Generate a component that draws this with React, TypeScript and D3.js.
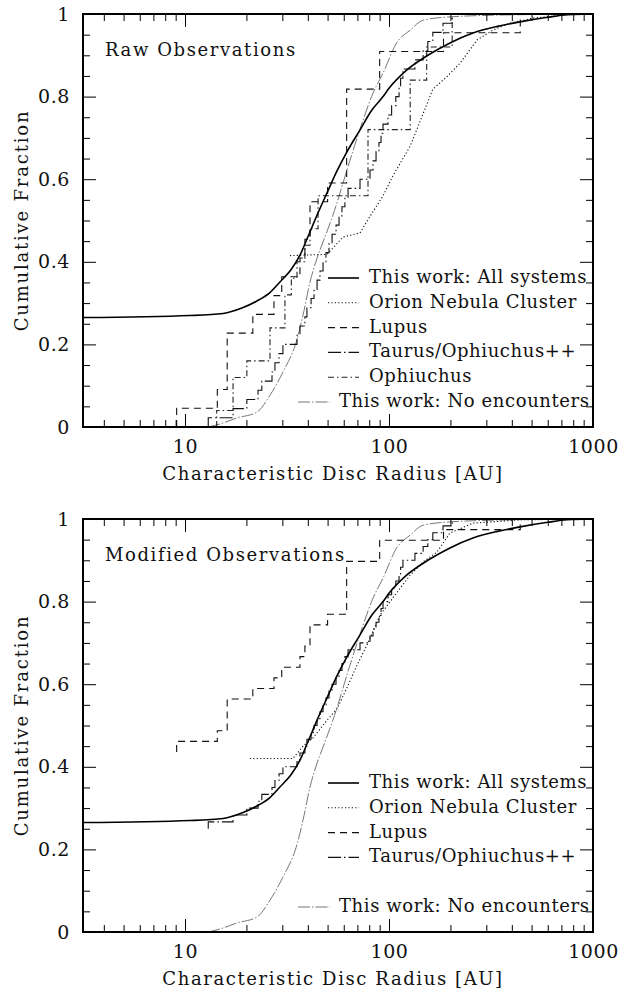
import React, { useEffect, useRef } from "react";
import * as d3 from "d3";

// model curves (this work)
const allSysR = [3.16, 10.6, 15.4, 19, 22.5, 26, 29.2, 33, 36.6, 40, 44.4, 50, 55.6, 62, 72, 82.6, 93.5, 100, 122, 155, 199, 258, 340, 439, 600, 746, 1000];
const allSysF = [0.265, 0.27, 0.275, 0.288, 0.305, 0.325, 0.351, 0.38, 0.416, 0.46, 0.513, 0.57, 0.62, 0.665, 0.719, 0.768, 0.8, 0.82, 0.864, 0.9, 0.93, 0.954, 0.97, 0.981, 0.992, 0.998, 1.0];

const noEncR = [13.0, 15, 18.0, 22.5, 26.1, 30.2, 35.4, 37.9, 41.0, 44.4, 47.5, 53.1, 64.4, 74.6, 83.6, 93.5, 109, 127, 147, 199, 400, 1000];
const noEncF = [0.0, 0.008, 0.022, 0.036, 0.077, 0.133, 0.212, 0.271, 0.351, 0.409, 0.448, 0.513, 0.646, 0.743, 0.809, 0.857, 0.93, 0.961, 0.985, 0.993, 0.998, 1.0];

// Orion Nebula Cluster
const oncRawR = [32.7, 49.7, 59.5, 72.1, 80.7, 93.5, 105, 117, 127, 142, 164, 192, 223, 270, 323, 392, 508, 746, 1000];
const oncRawF = [0.415, 0.418, 0.46, 0.47, 0.51, 0.56, 0.61, 0.65, 0.68, 0.74, 0.818, 0.848, 0.881, 0.937, 0.961, 0.978, 0.99, 0.998, 1.0];
const oncModR = [20.8, 33.8, 37.9, 42.4, 49.7, 55.6, 62.0, 69.7, 78.9, 90.3, 107, 127, 147, 172, 199, 258, 439, 1000];
const oncModF = [0.42, 0.42, 0.45, 0.47, 0.513, 0.54, 0.59, 0.646, 0.7, 0.767, 0.816, 0.864, 0.896, 0.92, 0.966, 0.99, 0.998, 1.0];

// step distributions: sorted radii [AU]
const lupusR = [9.1, 14.4, 16.1, 16.1, 16.1, 21.5, 27.3, 29.8, 36.6, 38.7, 41, 41, 50, 62, 62, 62, 62, 62, 90, 90, 185, 440];
const lupusModBase = 17;

const taurusR = [13.0, 17.2, 20.1, 22.8, 23.8, 26.7, 27.6, 28.9, 30.2, 35.4, 36.6, 38.7, 39.6, 41.5, 42.9, 44.4, 45.9, 47.5, 49.1, 50.8, 52.6, 55.0, 56.9, 58.8, 60.8, 63.0, 72.1, 80.7, 83.5, 86.4, 89.3, 91.4, 93.5, 98.9, 103, 108, 112, 114, 117, 134, 147, 155, 164, 184, 204];
const taurusModBase = 15;

const ophR = [14.3, 17.2, 17.2, 20.1, 26.1, 26.1, 30.9, 30.9, 33.2, 35.4, 38.7, 41, 44.9, 44.9, 78.9, 78.9, 78.9, 78.9, 127, 127, 127, 153, 153, 204, 204];

const xMajor = [10, 100, 1000];
const yMajor = [0, 0.2, 0.4, 0.6, 0.8, 1];

const legendRaw = ["This work: All systems", "Orion Nebula Cluster", "Lupus", "Taurus/Ophiuchus++", "Ophiuchus", "This work: No encounters"];
const legendMod = ["This work: All systems", "Orion Nebula Cluster", "Lupus", "Taurus/Ophiuchus++", "This work: No encounters"];

const FONT = "'DejaVu Serif', serif";

type Style = { dash: string; color: string; width: number };
const styles: Record<string, Style> = {
  all: { dash: "none", color: "#000", width: 1.6 },
  onc: { dash: "1.2,2.2", color: "#111", width: 1.1 },
  lupus: { dash: "7,5", color: "#111", width: 1.1 },
  taurus: { dash: "13,3,1.5,3", color: "#111", width: 1.1 },
  oph: { dash: "6,3,1.5,3", color: "#222", width: 1.1 },
  noenc: { dash: "12,2,1.5,2", color: "#777", width: 1 },
};

// build a step CDF path as points (vertical jumps at each radius)
function stepPoints(r: number[], base: number): [number, number][] {
  const n = base + r.length;
  const pts: [number, number][] = [];
  r.forEach((v, i) => {
    pts.push([v, (base + i) / n]);
    pts.push([v, (base + i + 1) / n]);
  });
  return pts;
}

const App: React.FC = () => {
  const svgRef = useRef<SVGSVGElement>(null);

  useEffect(() => {
    const svg = d3.select(svgRef.current);
    svg.selectAll("*").remove();

    const left = 83;
    const right = 593;

    const x = d3.scaleLog().domain([Math.sqrt(10), 1000]).range([left, right]);
    const xMinor: number[] = [];
    [1, 10, 100].forEach((d) => {
      for (let k = 2; k <= 9; k++) {
        const v = k * d;
        if (v > Math.sqrt(10) && !xMajor.includes(v)) xMinor.push(v);
      }
    });
    const yMinor = d3.range(0, 1.0001, 0.05).filter((v) => !yMajor.some((m) => Math.abs(m - v) < 1e-6));

    const drawPanel = (top: number, bottom: number, mod: boolean) => {
      const g = svg.append("g");
      const y = d3.scaleLinear().domain([0, 1]).range([bottom, top]);

      const smooth = d3
        .line<[number, number]>()
        .x((d) => x(d[0]))
        .y((d) => y(d[1]))
        .curve(d3.curveMonotoneX);
      const straight = d3
        .line<[number, number]>()
        .x((d) => x(d[0]))
        .y((d) => y(d[1]));

      const addPath = (d: string | null, s: Style) =>
        g
          .append("path")
          .attr("d", d || "")
          .attr("fill", "none")
          .attr("stroke", s.color)
          .attr("stroke-width", s.width)
          .attr("stroke-dasharray", s.dash);

      // curves
      addPath(smooth(noEncR.map((r, i) => [r, noEncF[i]])), styles.noenc);
      if (mod) {
        addPath(straight(oncModR.map((r, i) => [r, oncModF[i]])), styles.onc);
        addPath(straight(stepPoints(lupusR, lupusModBase)), styles.lupus);
        addPath(straight(stepPoints(taurusR, taurusModBase)), styles.taurus);
      } else {
        addPath(straight(oncRawR.map((r, i) => [r, oncRawF[i]])), styles.onc);
        addPath(straight(stepPoints(lupusR, 0)), styles.lupus);
        addPath(straight(stepPoints(taurusR, 0)), styles.taurus);
        addPath(straight(stepPoints(ophR, 0)), styles.oph);
      }
      addPath(smooth(allSysR.map((r, i) => [r, allSysF[i]])), styles.all);

      // axes
      const styleAxis = (a: d3.Selection<SVGGElement, unknown, null, undefined>) => {
        a.select(".domain").remove();
        a.selectAll("line").attr("stroke", "#000").attr("stroke-width", 1);
        a.attr("font-family", FONT).attr("font-size", 19);
        a.selectAll("text").attr("fill", "#111").attr("letter-spacing", 0.6);
      };

      styleAxis(
        g.append("g").attr("transform", `translate(0,${bottom})`)
          .call(d3.axisBottom(x).tickValues(xMajor).tickSize(-13).tickPadding(13).tickFormat((d) => String(d)))
      );
      styleAxis(
        g.append("g").attr("transform", `translate(0,${bottom})`)
          .call(d3.axisBottom(x).tickValues(xMinor).tickSize(-7).tickFormat(() => ""))
      );
      styleAxis(
        g.append("g").attr("transform", `translate(0,${top})`)
          .call(d3.axisTop(x).tickValues(xMajor).tickSize(-13).tickFormat(() => ""))
      );
      styleAxis(
        g.append("g").attr("transform", `translate(0,${top})`)
          .call(d3.axisTop(x).tickValues(xMinor).tickSize(-7).tickFormat(() => ""))
      );
      styleAxis(
        g.append("g").attr("transform", `translate(${left},0)`)
          .call(d3.axisLeft(y).tickValues(yMajor).tickSize(-13).tickPadding(13).tickFormat((d) => String(d)))
      );
      styleAxis(
        g.append("g").attr("transform", `translate(${left},0)`)
          .call(d3.axisLeft(y).tickValues(yMinor).tickSize(-7).tickFormat(() => ""))
      );
      styleAxis(
        g.append("g").attr("transform", `translate(${right},0)`)
          .call(d3.axisRight(y).tickValues(yMajor).tickSize(-13).tickFormat(() => ""))
      );
      styleAxis(
        g.append("g").attr("transform", `translate(${right},0)`)
          .call(d3.axisRight(y).tickValues(yMinor).tickSize(-7).tickFormat(() => ""))
      );

      g.append("rect")
        .attr("x", left)
        .attr("y", top)
        .attr("width", right - left)
        .attr("height", bottom - top)
        .attr("fill", "none")
        .attr("stroke", "#000")
        .attr("stroke-width", 2);

      const txt = (tx: number, ty: number, s: string, spacing: number) =>
        g.append("text")
          .attr("x", tx)
          .attr("y", ty)
          .attr("font-family", FONT)
          .attr("font-size", 18)
          .attr("letter-spacing", spacing)
          .attr("fill", "#111")
          .text(s);

      txt(105, top + 42, mod ? "Modified Observations" : "Raw Observations", 1.6);

      txt((left + right) / 2 - 5, bottom + 53, "Characteristic Disc Radius [AU]", 1.6).attr("text-anchor", "middle");

      g.append("text")
        .attr("transform", `translate(28,${(top + bottom) / 2}) rotate(-90)`)
        .attr("text-anchor", "middle")
        .attr("font-family", FONT)
        .attr("font-size", 18)
        .attr("letter-spacing", 1.8)
        .attr("fill", "#111")
        .text("Cumulative Fraction");

      // legend
      const labels = mod ? legendMod : legendRaw;
      const keys = mod ? ["all", "onc", "lupus", "taurus", "noenc"] : ["all", "onc", "lupus", "taurus", "oph", "noenc"];
      labels.forEach((lab, i) => {
        const isLast = keys[i] === "noenc";
        const row = isLast ? 5 : i;
        const by = top + 269 + row * 24.8;
        const x0 = isLast ? 298 : 328;
        const x1 = isLast ? 330 : 359;
        const s = styles[keys[i]];
        g.append("line")
          .attr("x1", x0)
          .attr("x2", x1)
          .attr("y1", by - 5)
          .attr("y2", by - 5)
          .attr("stroke", s.color)
          .attr("stroke-width", s.width)
          .attr("stroke-dasharray", s.dash);
        txt(isLast ? 339 : 369, by, lab, 0.6);
      });
    };

    drawPanel(14, 427, false);
    drawPanel(519, 932, true);
  }, []);

  return (
    <>
      <style>{`body{margin:0;background:#fff}`}</style>
      <svg ref={svgRef} width={633} height={989} style={{ display: "block" }} />
    </>
  );
};

export default App;
